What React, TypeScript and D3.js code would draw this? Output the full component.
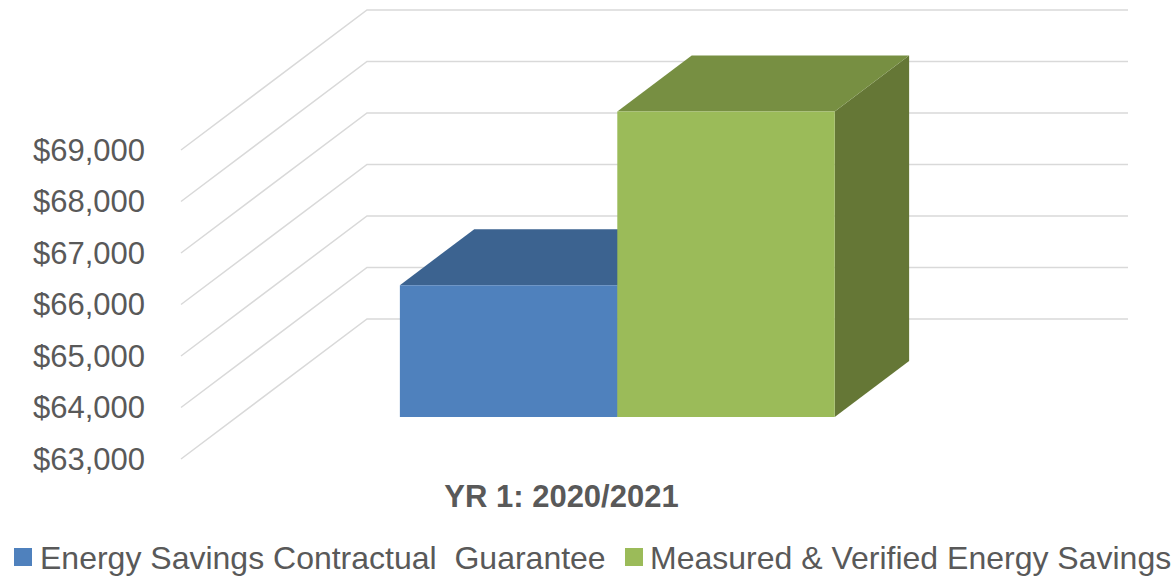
import React from "react";
import * as d3 from "d3";

const categories = ["YR 1: 2020/2021"];
const seriesNames = ["Energy Savings Contractual  Guarantee", "Measured & Verified Energy Savings"];
const guaranteeValues = [65560];
const measuredValues = [68930];
const yTicks = [63000, 64000, 65000, 66000, 67000, 68000, 69000];

const W = 1173;
const H = 578;
const FONT = "'Liberation Sans', Arial, sans-serif";

const frontLeft = 181;
const frontRight = 942;
const depthDX = 186;
const depthDY = 140;

const colors = [
  { front: "#4F81BD", top: "#3C6390", side: "#385D8A" },
  { front: "#9BBB59", top: "#778F42", side: "#657736" },
];

export default function App() {
  const y = d3.scaleLinear().domain([63000, 69000]).range([459, 150]);
  const xCat = d3.scaleBand().domain(categories).range([0, frontRight - frontLeft]);
  const fmt = (v: number) => "$" + d3.format(",")(v);

  const P = (x: number, v: number, d: number): [number, number] => [
    frontLeft + x + d * depthDX,
    y(v) - d * depthDY,
  ];
  const pts = (arr: [number, number][]) => arr.map((p) => p.join(",")).join(" ");

  const series = [guaranteeValues, measuredValues];
  const d0 = 0.3;
  const d1 = 0.7;

  const bars: JSX.Element[] = [];
  categories.forEach((c, ci) => {
    const bw = xCat.bandwidth();
    const barW = bw / (2 + 1.5);
    const start = xCat(c)! + (bw - 2 * barW) / 2;
    const xs = d3.scaleBand().domain(["0", "1"]).range([start, start + 2 * barW]);
    series.forEach((vals, si) => {
      const v = vals[ci];
      const xl = xs(String(si))!;
      const xr = xl + xs.bandwidth();
      const base = 63000;
      const col = colors[si];
      bars.push(
        <g key={`${ci}-${si}`}>
          <polygon
            points={pts([P(xr, base, d0), P(xr, v, d0), P(xr, v, d1), P(xr, base, d1)])}
            fill={col.side}
          />
          <polygon
            points={pts([P(xl, v, d0), P(xr, v, d0), P(xr, v, d1), P(xl, v, d1)])}
            fill={col.top}
          />
          <polygon
            points={pts([P(xl, base, d0), P(xr, base, d0), P(xr, v, d0), P(xl, v, d0)])}
            fill={col.front}
          />
        </g>
      );
    });
  });

  return (
    <svg
      width={W}
      height={H}
      style={{ position: "absolute", left: 0, top: 0, background: "#fff" }}
      fontFamily={FONT}
    >
      {yTicks.map((t) => {
        const a = P(0, t, 0);
        const b = P(0, t, 1);
        const c = P(frontRight - frontLeft, t, 1);
        return (
          <polyline
            key={t}
            points={pts([a, b, c])}
            fill="none"
            stroke="#D9D9D9"
            strokeWidth={1.5}
          />
        );
      })}
      {bars}
      {yTicks.map((t) => (
        <text
          key={"l" + t}
          x={145}
          y={y(t)}
          dy="0.35em"
          textAnchor="end"
          fontSize={31}
          fill="#595959"
        >
          {fmt(t)}
        </text>
      ))}
      {categories.map((c) => (
        <text
          key={c}
          x={frontLeft + xCat(c)! + xCat.bandwidth() / 2}
          y={496}
          dy="0.35em"
          textAnchor="middle"
          fontSize={31}
          fontWeight="bold"
          fill="#595959"
        >
          {c}
        </text>
      ))}
      <rect x={14} y={548} width={18} height={18} fill={colors[0].front} />
      <text x={40} y={569} fontSize={32} fill="#595959" style={{ whiteSpace: "pre" }}>
        {seriesNames[0]}
      </text>
      <rect x={625} y={548} width={18} height={18} fill={colors[1].front} />
      <text x={650} y={569} fontSize={32} fill="#595959" style={{ whiteSpace: "pre" }}>
        {seriesNames[1]}
      </text>
    </svg>
  );
}
